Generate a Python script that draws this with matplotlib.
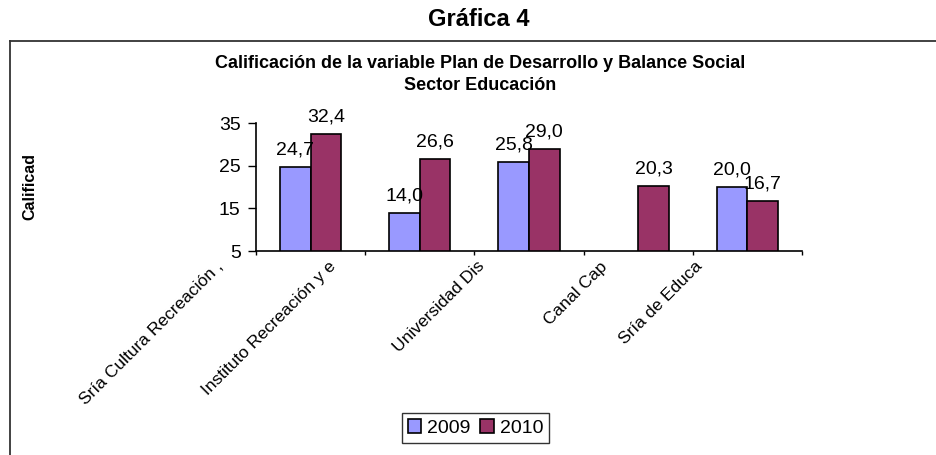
import numpy as np
import matplotlib
matplotlib.use('Agg')
import matplotlib.pyplot as plt
from matplotlib.lines import Line2D

plt.rcParams['font.family'] = ['Liberation Sans', 'DejaVu Sans']

# data
categories = ['Sría Cultura Recreación ,', 'Instituto Recreación y e', 'Universidad Dis',
              'Canal Cap', 'Sría de Educa']
series_names = ['2009', '2010']
values_2009 = [24.7, 14.0, 25.8, np.nan, 20.0]
values_2010 = [32.4, 26.6, 29.0, 20.3, 16.7]
y_ticks = [5, 15, 25, 35]

# where the (clipped) category labels end, in category units
label_end_x = [-0.876, 0.159, 1.524, 2.650, 3.520]

colors = ['#9999FF', '#993366']


def fmt(v):
    return f'{v:.1f}'.replace('.', ',')


def main():
    fig = plt.figure(figsize=(9.37, 4.55), dpi=100)

    # outer frame (top and left only)
    fig.add_artist(Line2D([10 / 937, 1.0], [1 - 41 / 455, 1 - 41 / 455],
                          color='#333333', lw=1.3, transform=fig.transFigure))
    fig.add_artist(Line2D([10 / 937, 10 / 937], [0, 1 - 41 / 455],
                          color='#333333', lw=1.3, transform=fig.transFigure))

    fig.text(479 / 937, 1 - 20 / 455, 'Gráfica 4', ha='center', va='center',
             fontsize=17, fontweight='bold')
    fig.text(480 / 937, 1 - 63 / 455,
             'Calificación de la variable Plan de Desarrollo y Balance Social',
             ha='center', va='center', fontsize=13, fontweight='bold')
    fig.text(480 / 937, 1 - 86 / 455, 'Sector Educación', ha='center', va='center',
             fontsize=13, fontweight='bold')
    fig.text(30 / 937, 1 - 186 / 455, 'Calificad', rotation=90, ha='center',
             va='center', fontsize=11.5, fontweight='bold')

    ax = fig.add_axes([256 / 937, 1 - 251 / 455, 546 / 937, 128 / 455])

    x = np.arange(len(categories))
    w = 0.28
    for i, (vals, name) in enumerate(zip([values_2009, values_2010], series_names)):
        pos = x + (i - 0.5) * w
        ax.bar(pos, vals, w, bottom=0, color=colors[i], edgecolor='black',
               linewidth=1.2, label=name, zorder=2)
        for p, v in zip(pos, vals):
            if np.isnan(v):
                continue
            ax.annotate(fmt(v), (p, v), xytext=(0, 6), textcoords='offset points',
                        ha='center', va='bottom', fontsize=14)

    ax.set_xlim(-0.5, len(categories) - 0.5)
    ax.set_ylim(5, 35)
    ax.set_yticks(y_ticks)
    ax.tick_params(axis='y', labelsize=14, length=5.5, width=1, pad=5.5)
    ax.set_xticks(np.arange(len(categories) + 1) - 0.5)
    ax.set_xticklabels([])
    ax.tick_params(axis='x', length=3, width=1)

    for sp in ['top', 'right']:
        ax.spines[sp].set_visible(False)
    for sp in ['left', 'bottom']:
        ax.spines[sp].set_linewidth(1.2)

    for xe, lab in zip(label_end_x, categories):
        ax.text(xe, -0.06, lab, transform=ax.get_xaxis_transform(), rotation=45,
                rotation_mode='anchor', ha='right', va='top', fontsize=12.5,
                clip_on=False)

    leg = fig.legend(loc='center', bbox_to_anchor=(475.5 / 937, 1 - 428 / 455),
                     ncol=2, fontsize=14, frameon=True, fancybox=False,
                     edgecolor='black', handlelength=0.7, handleheight=0.7,
                     handletextpad=0.3, columnspacing=0.5, borderpad=0.3)
    leg.get_frame().set_linewidth(1.0)

    fig.savefig('out.png', dpi=100)


if __name__ == '__main__':
    main()
